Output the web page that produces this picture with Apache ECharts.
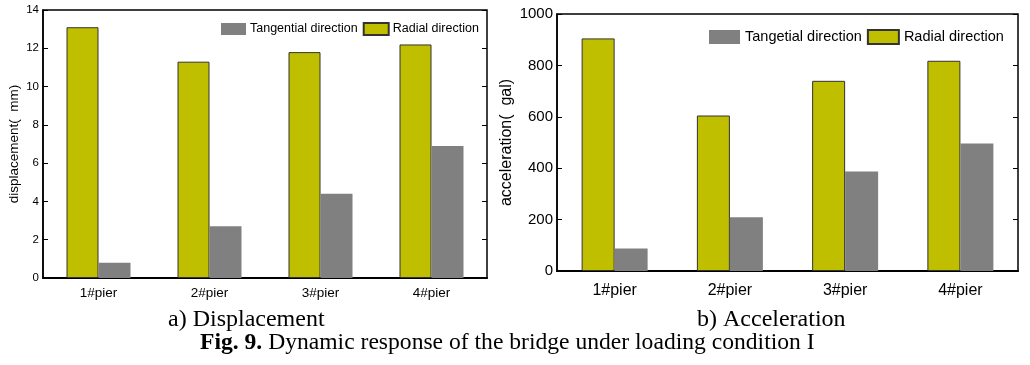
<!DOCTYPE html>
<html>
<head>
<meta charset="utf-8">
<script src="https://cdn.jsdelivr.net/npm/echarts@6/dist/echarts.min.js"></script>
<style>html,body{margin:0;padding:0;background:#fff}#c{width:1030px;height:365px}</style>
</head>
<body>
<div id="c"></div>
<script>
var categories = ['1#pier', '2#pier', '3#pier', '4#pier'];
var dispRadial = [13.1, 11.3, 11.8, 12.2];
var dispTangential = [0.8, 2.7, 4.4, 6.9];
var accRadial = [905, 605, 740, 818];
var accTangential = [88, 209, 387, 496];
var dispTicks = { min: 0, max: 14, interval: 2 };
var accTicks = { min: 0, max: 1000, interval: 200 };

var SANS = 'Liberation Sans';
var SERIF = 'Liberation Serif';
var RADIAL = '#bfbf00';
var TANG = '#808080';

var chart = echarts.init(document.getElementById('c'), null, { renderer: 'canvas' });

function yMain(t, fs, name, nameGap, nameFs) {
  return {
    type: 'value', min: t.min, max: t.max, interval: t.interval,
    name: name, nameLocation: 'middle', nameGap: nameGap,
    nameTextStyle: { fontFamily: SANS, fontSize: nameFs, color: '#000' },
    axisLine: { show: true, lineStyle: { color: '#000', width: 1.5 } },
    axisTick: { show: true, inside: true, length: 5, lineStyle: { color: '#000' } },
    axisLabel: { fontFamily: SANS, fontSize: fs, color: '#000', margin: 4, formatter: function (v) { return String(v); } },
    splitLine: { show: false }
  };
}
function yMirror(t, gi) {
  return {
    type: 'value', gridIndex: gi, position: 'right', min: t.min, max: t.max, interval: t.interval,
    axisLine: { show: false },
    axisTick: { show: true, inside: true, length: 5, lineStyle: { color: '#000' } },
    axisLabel: { show: false },
    splitLine: { show: false }
  };
}
function xAxis(gi, fs, margin) {
  return {
    type: 'category', gridIndex: gi, data: categories,
    axisLine: { show: true, lineStyle: { color: '#000', width: 2 } },
    axisTick: { show: false },
    axisLabel: { fontFamily: SANS, fontSize: fs, color: '#000', margin: margin, interval: 0 }
  };
}

var yA = yMain(dispTicks, 11.5, 'displacement(  mm)', 22, 13.5); yA.gridIndex = 0;
var yB = yMain(accTicks, 15, 'acceleration(  gal)', 42, 16); yB.gridIndex = 1;

chart.setOption({
  animation: false,
  backgroundColor: '#fff',
  grid: [
    { left: 43, top: 10, width: 444, height: 268, show: true, borderColor: '#000', borderWidth: 1.5, backgroundColor: 'transparent' },
    { left: 557, top: 14, width: 461, height: 257, show: true, borderColor: '#000', borderWidth: 1.5, backgroundColor: 'transparent' }
  ],
  legend: [
    { left: 221, top: 22, padding: 0, itemWidth: 25, itemHeight: 12, itemGap: 5, icon: 'rect',
      data: ['Tangential direction', 'Radial direction'],
      textStyle: { fontFamily: SANS, fontSize: 12.5, color: '#000', padding: [0, 0, 0, -1] } },
    { left: 709, top: 29, padding: 0, itemWidth: 31, itemHeight: 14, itemGap: 5, icon: 'rect',
      data: ['Tangetial direction', 'Radial direction '],
      textStyle: { fontFamily: SANS, fontSize: 14.5, color: '#000' } }
  ],
  xAxis: [xAxis(0, 13.5, 8), xAxis(1, 16, 12)],
  yAxis: [yA, yMirror(dispTicks, 0), yB, yMirror(accTicks, 1)],
  series: [
    { name: 'Radial direction', type: 'bar', xAxisIndex: 0, yAxisIndex: 0, data: dispRadial,
      barWidth: 32, barGap: '0%', itemStyle: { color: RADIAL, borderColor: '#333', borderWidth: 1 } },
    { name: 'Tangential direction', type: 'bar', xAxisIndex: 0, yAxisIndex: 0, data: dispTangential,
      barWidth: 32, barGap: '0%', itemStyle: { color: TANG } },
    { name: 'Radial direction ', type: 'bar', xAxisIndex: 1, yAxisIndex: 2, data: accRadial,
      barWidth: 33, barGap: '0%', itemStyle: { color: RADIAL, borderColor: '#333', borderWidth: 1 } },
    { name: 'Tangetial direction', type: 'bar', xAxisIndex: 1, yAxisIndex: 2, data: accTangential,
      barWidth: 33, barGap: '0%', itemStyle: { color: TANG } }
  ],
  graphic: [
    { type: 'text', left: 168, top: 308, style: { text: 'a) Displacement', font: '24px "' + SERIF + '"', fill: '#000' } },
    { type: 'text', left: 697, top: 308, style: { text: 'b) Acceleration', font: '24px "' + SERIF + '"', fill: '#000' } },
    { type: 'text', left: 200, top: 331, style: {
        text: '{b|Fig. 9.} Dynamic response of the bridge under loading condition I',
        fontFamily: SERIF, fontSize: 23.6, fill: '#000',
        rich: { b: { fontFamily: SERIF, fontSize: 23.6, fontWeight: 'bold', fill: '#000' } } } }
  ]
});
</script>
</body>
</html>
